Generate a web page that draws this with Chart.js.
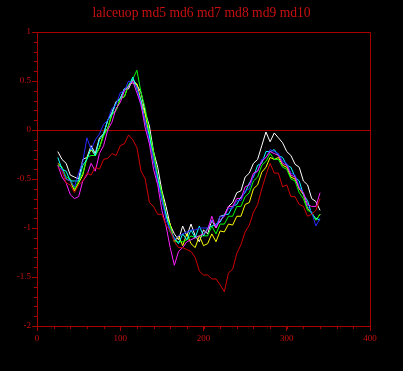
<!DOCTYPE html>
<html>
<head>
<meta charset="utf-8">
<script src="https://cdn.jsdelivr.net/npm/chart.js@4/dist/chart.umd.min.js"></script>
<style>
html,body{margin:0;padding:0;background:#000;}
#wrap{width:403px;height:371px;position:relative;}
</style>
</head>
<body>
<div id="wrap"><canvas id="c" width="403" height="371"></canvas></div>
<script>
const titleText = "lalceuop md5 md6 md7 md8 md9 md10";
const seriesNames = ["lalceuop","md5","md6","md7","md8","md9","md10"];
const xTicks = [0,100,200,300,400];
const yTicks = [-2,-1.5,-1,-0.5,0,0.5,1];

const xs = [25,30,35,40,45,50,55,60,65,70,75,80,85,90,95,100,105,110,115,120,
125,130,135,140,145,150,155,160,165,170,175,180,185,190,195,200,205,210,215,220,
225,230,235,240,245,250,255,260,265,270,275,280,285,290,295,300,305,310,315,320,
325,330,335,340];

const redVals = [-0.38,-0.42,-0.54,-0.56,-0.64,-0.56,-0.52,-0.44,-0.46,-0.38,
-0.40,-0.30,-0.29,-0.24,-0.26,-0.16,-0.14,-0.05,-0.10,-0.18,
-0.42,-0.50,-0.74,-0.78,-0.86,-0.86,-0.97,-1.03,-1.14,-1.20,
-1.20,-1.22,-1.24,-1.30,-1.44,-1.48,-1.48,-1.52,-1.52,-1.58,
-1.65,-1.46,-1.42,-1.26,-1.17,-1.04,-0.97,-0.84,-0.76,-0.60,
-0.46,-0.34,-0.44,-0.44,-0.58,-0.56,-0.68,-0.68,-0.76,-0.78,
-0.88,-0.86,-0.82,-0.70];

const magentaVals = [-0.36,-0.48,-0.54,-0.66,-0.70,-0.68,-0.52,-0.46,-0.34,-0.42,
-0.24,-0.16,0.00,0.08,0.22,0.28,0.40,0.44,0.50,0.38,
0.26,0.02,-0.14,-0.40,-0.56,-0.82,-0.98,-1.20,-1.38,-1.24,
-1.20,-1.14,-1.12,-1.10,-1.08,-1.06,-1.02,-0.88,-1.00,-0.92,
-0.88,-0.78,-0.78,-0.70,-0.70,-0.58,-0.56,-0.44,-0.42,-0.32,
-0.28,-0.22,-0.24,-0.26,-0.34,-0.36,-0.46,-0.48,-0.60,-0.64,
-0.76,-0.78,-0.78,-0.64];

const blueVals = [-0.38,-0.40,-0.50,-0.52,-0.58,-0.44,-0.32,-0.08,-0.20,-0.10,
-0.04,0.06,0.10,0.22,0.26,0.38,0.40,0.50,0.48,0.44,
0.24,0.10,-0.12,-0.30,-0.54,-0.70,-0.92,-1.02,-1.12,-1.08,
-1.06,-1.04,-1.02,-1.02,-1.00,-1.00,-1.00,-0.92,-0.98,-0.88,
-0.88,-0.80,-0.80,-0.72,-0.72,-0.62,-0.60,-0.46,-0.42,-0.30,
-0.28,-0.20,-0.22,-0.24,-0.32,-0.34,-0.44,-0.46,-0.58,-0.64,
-0.78,-0.84,-0.98,-0.90];

const cyanVals = [-0.28,-0.40,-0.42,-0.52,-0.52,-0.52,-0.36,-0.30,-0.18,-0.26,
-0.10,-0.04,0.10,0.16,0.28,0.32,0.42,0.44,0.54,0.42,
0.30,0.08,-0.06,-0.32,-0.48,-0.72,-0.86,-1.04,-1.10,-1.16,
-1.06,-1.12,-1.02,-1.10,-0.98,-1.08,-1.00,-0.98,-0.96,-0.94,
-0.86,-0.86,-0.78,-0.76,-0.68,-0.64,-0.54,-0.48,-0.36,-0.34,
-0.22,-0.22,-0.20,-0.26,-0.28,-0.36,-0.38,-0.48,-0.52,-0.66,
-0.72,-0.86,-0.90,-0.92];

const greenVals = [-0.36,-0.38,-0.48,-0.50,-0.60,-0.52,-0.44,-0.28,-0.26,-0.26,
-0.18,-0.06,0.02,0.16,0.20,0.32,0.34,0.46,0.52,0.61,
0.38,0.22,-0.02,-0.22,-0.48,-0.64,-0.88,-0.98,-1.14,-1.14,
-1.14,-1.12,-1.08,-1.10,-1.08,-1.08,-1.08,-0.98,-1.06,-0.96,
-0.96,-0.88,-0.88,-0.78,-0.78,-0.68,-0.64,-0.52,-0.48,-0.36,
-0.32,-0.24,-0.30,-0.30,-0.38,-0.40,-0.50,-0.52,-0.64,-0.70,
-0.82,-0.84,-0.92,-0.86];

const yellowVals = [-0.34,-0.38,-0.50,-0.52,-0.62,-0.54,-0.46,-0.28,-0.20,-0.26,
-0.18,-0.04,0.02,0.16,0.20,0.32,0.34,0.46,0.48,0.47,
0.30,0.16,-0.06,-0.24,-0.48,-0.64,-0.86,-0.96,-1.14,-1.08,
-1.18,-1.06,-1.16,-1.20,-1.08,-1.18,-1.16,-1.06,-1.14,-1.03,
-1.04,-0.96,-0.97,-0.88,-0.88,-0.76,-0.74,-0.60,-0.56,-0.43,
-0.38,-0.28,-0.30,-0.28,-0.36,-0.38,-0.48,-0.50,-0.60,-0.66,
-0.80,-0.84,-0.92,-0.86];

const whiteVals = [-0.22,-0.30,-0.34,-0.46,-0.48,-0.50,-0.30,-0.28,-0.16,-0.24,
-0.08,-0.04,0.10,0.18,0.29,0.32,0.42,0.42,0.52,0.46,
0.38,0.18,0.04,-0.22,-0.38,-0.62,-0.78,-0.97,-1.06,-1.12,
-0.98,-1.08,-0.96,-1.08,-1.14,-1.02,-1.06,-0.92,-1.00,-0.88,
-0.87,-0.78,-0.74,-0.64,-0.62,-0.48,-0.44,-0.34,-0.30,-0.16,
-0.02,-0.12,-0.03,-0.08,-0.13,-0.22,-0.26,-0.35,-0.38,-0.52,
-0.56,-0.70,-0.73,-0.82];

const axisColor = '#a80000';
const textColor = '#c81010';

function pts(vals){ return vals.map((v,i)=>({x:xs[i], y:v})); }

const seriesVals = [redVals, magentaVals, blueVals, cyanVals, greenVals, yellowVals, whiteVals];
const seriesColors = ['#d00000','#ff20ff','#2828ff','#00ffff','#00ff00','#ffff00','#ffffff'];

const frameAndMinor = {
  id:'frameAndMinor',
  afterDraw(chart){
    const ctx = chart.ctx, a = chart.chartArea;
    const sx = chart.scales.x, sy = chart.scales.y;
    ctx.save();
    ctx.strokeStyle = axisColor;
    ctx.lineWidth = 1;
    ctx.beginPath();
    ctx.moveTo(Math.round(a.left)+0.5, Math.round(a.top)+0.5);
    ctx.lineTo(Math.round(a.right)+0.5, Math.round(a.top)+0.5);
    ctx.lineTo(Math.round(a.right)+0.5, Math.round(a.bottom)+0.5);
    ctx.stroke();
    ctx.beginPath();
    for(let k=-20;k<=10;k++){
      const py = Math.round(sy.getPixelForValue(k/10))+0.5;
      ctx.moveTo(a.left-3, py); ctx.lineTo(a.left, py);
    }
    for(let k=0;k<=20;k++){
      const px = Math.round(sx.getPixelForValue(k*20))+0.5;
      ctx.moveTo(px, a.bottom); ctx.lineTo(px, a.bottom+3);
    }
    ctx.stroke();
    ctx.restore();
  }
};

new Chart(document.getElementById('c'), {
  type:'line',
  data:{
    datasets: seriesVals.map((v,i)=>({
      label: seriesNames[i],
      data: pts(v),
      borderColor: seriesColors[i],
      backgroundColor: seriesColors[i],
      borderWidth: 1,
      pointRadius: 0,
      tension: 0,
      fill: false
    }))
  },
  options:{
    responsive:false,
    animation:false,
    events:[],
    layout:{padding:{left:0,right:0,top:0,bottom:0}},
    plugins:{
      legend:{display:false},
      tooltip:{enabled:false},
      title:{
        display:true,
        text:titleText,
        color:textColor,
        font:{family:'"Liberation Serif", "DejaVu Serif", serif', size:13.6, weight:'normal', lineHeight:1.2},
        padding:{top:5,bottom:10.7}
      }
    },
    scales:{
      x:{
        type:'linear', min:0, max:400,
        afterFit(s){ s.height = 45; },
        afterBuildTicks(s){ s.ticks = xTicks.map(v=>({value:v})); },
        ticks:{color:textColor, autoSkip:false, maxRotation:0, padding:2,
          font:{family:'"Liberation Serif", serif', size:9}},
        grid:{display:true, drawOnChartArea:false, drawTicks:true, tickLength:5, tickColor:axisColor, color:axisColor},
        border:{display:true, color:axisColor, width:1}
      },
      y:{
        type:'linear', min:-2, max:1,
        afterFit(s){ s.width = 37; },
        afterBuildTicks(s){ s.ticks = yTicks.map(v=>({value:v})); },
        ticks:{color:textColor, autoSkip:false, padding:1,
          font:{family:'"Liberation Serif", serif', size:9},
          callback:(v)=>String(v)},
        grid:{display:true, drawOnChartArea:true, drawTicks:true, tickLength:5,
          tickColor:axisColor,
          color:(c)=> (c.tick && c.tick.value===0) ? axisColor : 'rgba(0,0,0,0)'},
        border:{display:true, color:axisColor, width:1}
      },
      yRight:{
        type:'linear', position:'right', min:-2, max:1,
        afterFit(s){ s.width = 33; },
        ticks:{display:false},
        grid:{display:false, drawTicks:false},
        border:{display:false}
      }
    }
  },
  plugins:[frameAndMinor]
});
</script>
</body>
</html>
